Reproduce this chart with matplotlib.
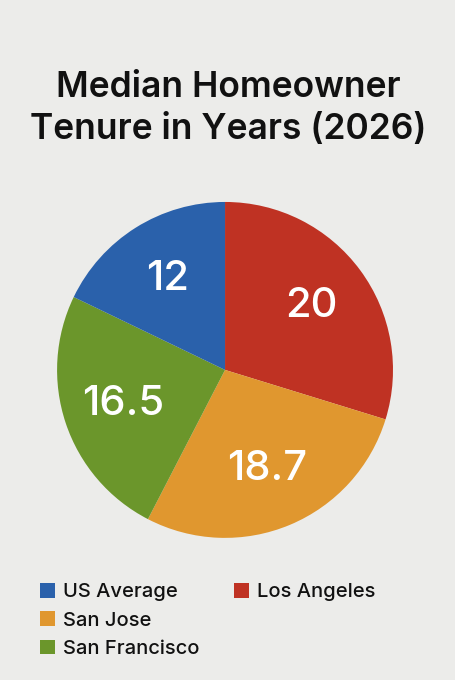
import matplotlib.pyplot as plt
from matplotlib.patches import Patch

# Data (pie order, clockwise from 12 o'clock)
categories = ['Los Angeles', 'San Jose', 'San Francisco', 'US Average']
values = [20, 18.7, 16.5, 12]
colors = ['#bf3223', '#e0972f', '#6b962b', '#2a61ab']

# Legend order as shown
legend_order = ['US Average', 'San Jose', 'San Francisco', 'Los Angeles']

bg = '#ececea'
plt.rcParams['font.family'] = ['Inter', 'DejaVu Sans']

fig = plt.figure(figsize=(4.56, 6.8), dpi=100, facecolor=bg)

fig.text(0.5, 0.84, 'Median Homeowner\nTenure in Years (2026)', ha='center', va='center',
         fontsize=25.5, fontweight='semibold', color='#111111', linespacing=1.36)

ax = fig.add_axes([0.125, 0.209, 0.737, 0.494])
ax.set_facecolor(bg)
wedges, texts = ax.pie(values, colors=colors, startangle=90, counterclock=False,
                       labels=[f'{v:g}' for v in values], labeldistance=0.64,
                       wedgeprops=dict(linewidth=0))
for t in texts:
    t.set_ha('center')
    t.set_va('center')
    t.set_color('white')
    t.set_fontsize(30)
    t.set_fontweight('medium')
ax.set_xlim(-1, 1)
ax.set_ylim(-1, 1)
ax.set_aspect('equal')

color_map = dict(zip(categories, colors))
handles = [Patch(facecolor=color_map[c], edgecolor='none') for c in legend_order]
labels = list(legend_order)
# blank entries so the first column holds three rows
handles += [Patch(facecolor='none', edgecolor='none')] * 2
labels += ['', '']
fig.legend(handles, labels, ncol=2, loc='upper left', bbox_to_anchor=(0.088, 0.143),
           frameon=False, prop=dict(size=14.5, weight='medium'),
           handlelength=0.75, handleheight=0.75, labelcolor='#111111',
           handletextpad=0.4, columnspacing=1.7, labelspacing=0.5, borderpad=0,
           borderaxespad=0)

fig.savefig('out.png', dpi=100, facecolor=bg)
